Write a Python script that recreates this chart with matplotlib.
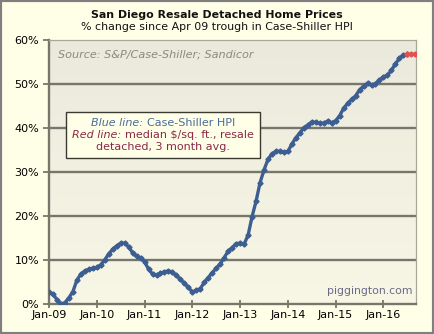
import numpy as np
import matplotlib
matplotlib.use("Agg")
import matplotlib.pyplot as plt
from matplotlib.colors import LinearSegmentedColormap
from matplotlib.offsetbox import TextArea, HPacker, VPacker, AnchoredOffsetbox
from matplotlib.patches import Rectangle

# Data: % change since Apr 09 trough, monthly from Jan-09
hpi = [2.8, 2.2, 1.0, 0.0, 0.3, 1.4, 2.8, 5.4, 6.8, 7.5, 7.9, 8.1,
       8.3, 8.9, 10.0, 11.4, 12.4, 13.2, 13.8, 13.8, 13.0, 11.6, 10.8, 10.4,
       9.6, 7.9, 6.8, 6.6, 7.0, 7.3, 7.5, 7.2, 6.5, 5.6, 4.7, 3.8,
       2.7, 3.1, 3.5, 4.9, 6.0, 7.1, 8.1, 9.1, 10.5, 12.0, 12.8, 13.7,
       13.8, 13.6, 15.6, 19.8, 23.3, 27.5, 30.4, 32.8, 34.1, 34.6, 34.6, 34.4,
       34.6, 36.3, 37.7, 38.8, 40.0, 40.6, 41.3, 41.2, 41.0, 41.0, 41.5, 41.1,
       41.6, 42.7, 44.4, 45.5, 46.4, 47.2, 48.6, 49.4, 50.1, 49.6, 50.0, 50.8,
       51.5, 51.9, 53.0, 54.5, 55.7, 56.5, 56.6]
median_sqft = [56.6, 56.7, 56.6]   # Jul-16 .. Sep-16
median_start = 90                  # month index of first red point

tick_labels = ["Jan-09", "Jan-10", "Jan-11", "Jan-12",
               "Jan-13", "Jan-14", "Jan-15", "Jan-16"]
y_ticks = [0, 10, 20, 30, 40, 50, 60]

months = np.arange(len(hpi))
months_red = np.arange(median_start, median_start + len(median_sqft))

bg = "#ffffe8"
grid_col = "#77766a"
blue = "#3c5e91"
red = "#e0524e"

fig = plt.figure(figsize=(4.34, 3.34), dpi=100, facecolor=bg)
ax = fig.add_axes([49 / 434, 1 - 304 / 334, (415.7 - 49) / 434, (304 - 39.5) / 334])
ax.set_facecolor(bg)

# gradient plot background
cmap = LinearSegmentedColormap.from_list("bgfade", ["#f8f7e6", "#ebe9dc"])
ax.imshow(np.linspace(0, 1, 256).reshape(-1, 1), aspect="auto", cmap=cmap,
          extent=[0, 92.1, 0, 60], origin="lower", zorder=0)

for v in y_ticks[1:-1]:
    ax.axhline(v, color=grid_col, lw=1.7, zorder=1)

ax.plot(months, hpi, color=blue, lw=2.4, marker="D", ms=2.6, zorder=3)
ax.plot(months_red, median_sqft, color=red, lw=2.4, marker="D", ms=2.6, zorder=4)

ax.set_xlim(0, 92.1)
ax.set_ylim(0, 60)
ax.set_xticks(np.arange(len(tick_labels)) * 12)
ax.set_xticklabels(tick_labels)
ax.set_yticks(y_ticks)
ax.set_yticklabels(["{}%".format(v) for v in y_ticks])
ax.tick_params(axis="x", direction="inout", length=6, width=1.3, color=grid_col,
               labelsize=8, pad=1)
ax.tick_params(axis="y", direction="out", length=4, width=1.3, color=grid_col,
               labelsize=8, pad=3)

for side in ["left", "bottom"]:
    ax.spines[side].set_color(grid_col)
    ax.spines[side].set_linewidth(1.7)
for side in ["top", "right"]:
    ax.spines[side].set_color("#a8a798")
    ax.spines[side].set_linewidth(0.9)

# titles
fig.text(0.5, 1 - 15 / 334, "San Diego Resale Detached Home Prices",
         ha="center", va="center", fontsize=7.9, fontweight="bold", color="#111111")
fig.text(0.5, 1 - 27 / 334, "% change since Apr 09 trough in Case-Shiller HPI",
         ha="center", va="center", fontsize=7.9, color="#111111")

ax.text(0.025, 0.96, "Source: S&P/Case-Shiller; Sandicor", transform=ax.transAxes,
        ha="left", va="top", fontsize=8.1, style="italic", color="#8a8a80")
ax.text(0.99, 0.05, "piggington.com", transform=ax.transAxes,
        ha="right", va="center", fontsize=7.8, color="#6a6a88")

# legend-like text box
bl = "#4a6c9c"
rd = "#8a2848"
fs = 8.0
line1 = HPacker(children=[TextArea("Blue line:", textprops=dict(color=bl, style="italic", fontsize=fs)),
                          TextArea("Case-Shiller HPI", textprops=dict(color=bl, fontsize=fs))],
                align="baseline", pad=0, sep=3)
line2 = HPacker(children=[TextArea("Red line:", textprops=dict(color=rd, style="italic", fontsize=fs)),
                          TextArea("median $/sq. ft., resale", textprops=dict(color=rd, fontsize=fs))],
                align="baseline", pad=0, sep=3)
line3 = TextArea("detached, 3 month avg.", textprops=dict(color=rd, fontsize=fs))
box = VPacker(children=[line1, line2, line3], align="center", pad=0, sep=1.5)
anch = AnchoredOffsetbox(loc="center", child=box, pad=0.4, borderpad=0, frameon=True,
                         bbox_to_anchor=(163 / 434, 1 - 135 / 334),
                         bbox_transform=fig.transFigure)
anch.patch.set_facecolor(bg)
anch.patch.set_edgecolor("#3a3a30")
anch.patch.set_linewidth(1.0)
anch.patch.set_boxstyle("square", pad=0)
anch.set_zorder(5)
ax.add_artist(anch)

# outer frame
fig.patches.append(Rectangle((0, 0), 1, 1, transform=fig.transFigure, fill=False,
                             edgecolor="#7f7f7f", lw=3.0))

fig.savefig("out.png", dpi=100, facecolor=bg)
